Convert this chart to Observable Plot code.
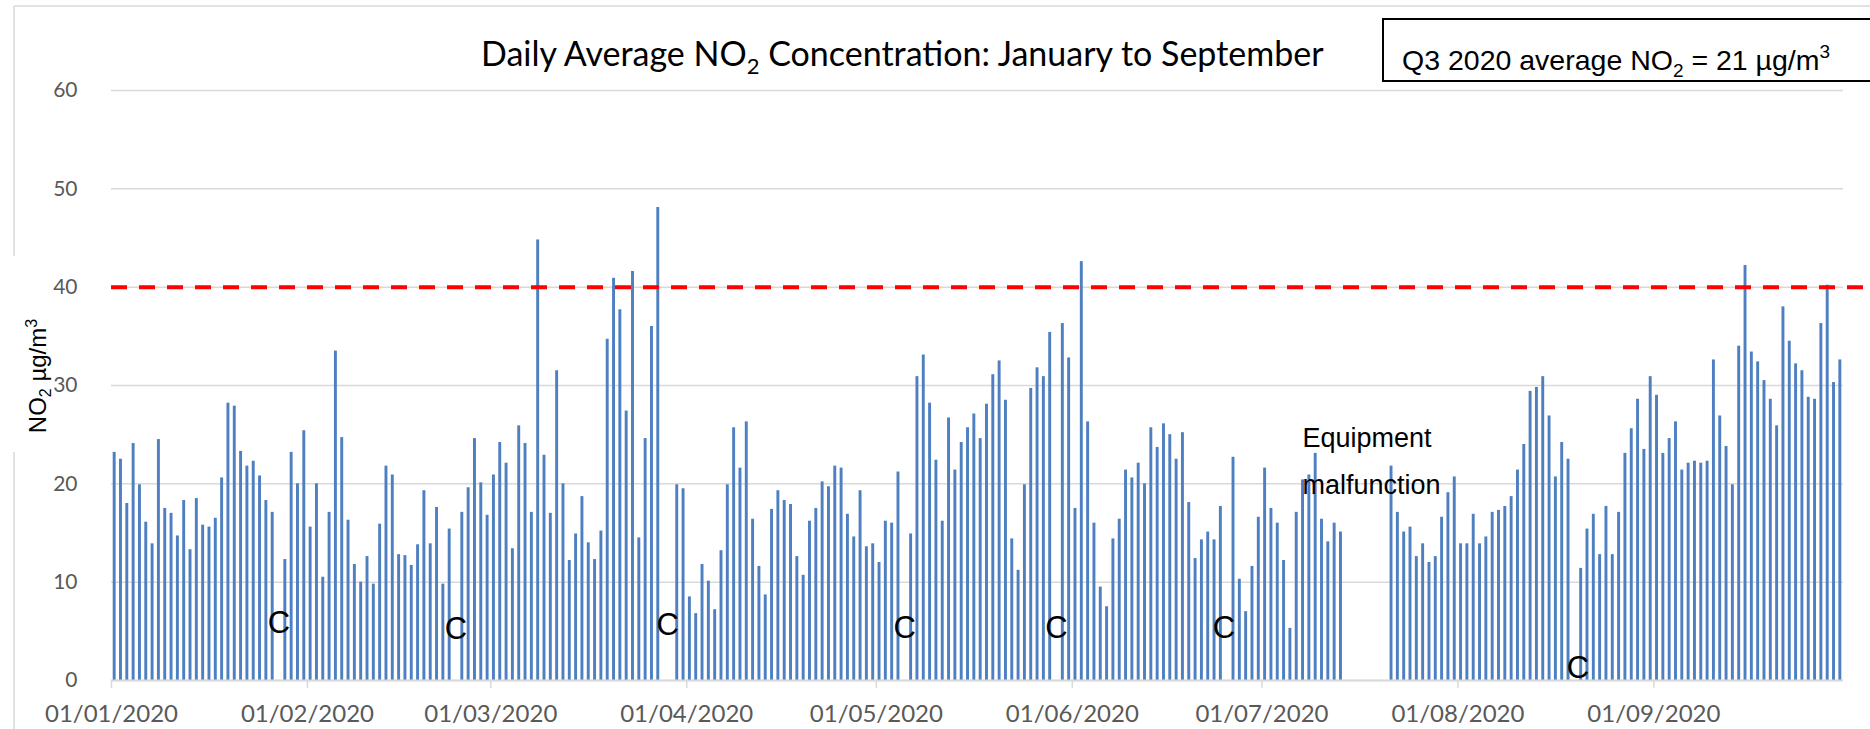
<!DOCTYPE html>
<html>
<head>
<meta charset="utf-8">
<script src="https://cdn.jsdelivr.net/npm/d3@7"></script>
<script src="https://cdn.jsdelivr.net/npm/@observablehq/plot@0.6"></script>
<style>
  html, body { margin: 0; padding: 0; background: #fff; }
  body { width: 1870px; height: 729px; overflow: hidden; position: relative; }
  #chart { position: absolute; left: 0; top: 0; }
  #overlay { position: absolute; left: 0; top: 0; pointer-events: none; }
</style>
</head>
<body>
<div id="chart"></div>
<svg id="overlay" width="1870" height="729" xmlns="http://www.w3.org/2000/svg">
  <line x1="14" y1="6" x2="1870" y2="6" stroke="#d9d9d9" stroke-width="1.5"/>
  <line x1="14" y1="6" x2="14" y2="256" stroke="#d9d9d9" stroke-width="1.5"/>
  <line x1="14" y1="452" x2="14" y2="729" stroke="#d9d9d9" stroke-width="1.5"/>
  <text x="481" y="66" font-family="Lato, sans-serif" font-size="34" fill="#000">Daily Average NO<tspan font-size="22" dy="8">2</tspan><tspan dy="-8"> Concentration: January to September</tspan></text>
  <rect x="1383" y="19" width="600" height="62" fill="#fff" stroke="#000" stroke-width="2"/>
  <text x="1402" y="70" font-family="Liberation Sans, Arial, sans-serif" font-size="28.5" fill="#000">Q3 2020 average NO<tspan font-size="19" dy="7">2</tspan><tspan dy="-7"> = 21 µg/m</tspan><tspan font-size="19" dy="-12">3</tspan></text>
  <g transform="translate(46,376) rotate(-90)">
    <text text-anchor="middle" font-family="Liberation Sans, Arial, sans-serif" font-size="24" fill="#000">NO<tspan font-size="16" dy="5">2</tspan><tspan dy="-5"> µg/m</tspan><tspan font-size="16" dy="-9">3</tspan></text>
  </g>
</svg>
<script>
// Daily average NO2 (µg/m³), one array per month; null = no data
const jan = [23.2, 22.5, 18.0, 24.1, 19.9, 16.1, 13.9, 24.5, 17.5, 17.0, 14.7, 18.3, 13.3, 18.5, 15.8, 15.6, 16.5, 20.6, 28.2, 27.9, 23.3, 21.8, 22.3, 20.8, 18.3, 17.1, null, 12.3, 23.2, 20.0, 25.4];
const feb = [15.6, 20.0, 10.5, 17.1, 33.5, 24.7, 16.3, 11.8, 10.0, 12.6, 9.8, 15.9, 21.8, 20.9, 12.8, 12.7, 11.7, 13.8, 19.3, 13.9, 17.6, 9.8, 15.4, null, 17.1, 19.6, 24.6, 20.1, 16.8];
const mar = [20.9, 24.2, 22.1, 13.4, 25.9, 24.1, 17.1, 44.8, 22.9, 17.0, 31.5, 20.0, 12.2, 14.9, 18.7, 14.0, 12.3, 15.2, 34.7, 40.9, 37.7, 27.4, 41.6, 14.5, 24.6, 36.0, 48.1, null, null, 19.9, 19.5];
const apr = [8.5, 6.8, 11.8, 10.1, 7.2, 13.2, 19.9, 25.7, 21.6, 26.3, 16.4, 11.6, 8.7, 17.4, 19.3, 18.3, 17.9, 12.6, 10.7, 16.2, 17.5, 20.2, 19.7, 21.8, 21.6, 16.9, 14.6, 19.3, 13.6, 13.9];
const may = [12.0, 16.2, 16.0, 21.2, null, 14.9, 30.9, 33.1, 28.2, 22.4, 16.2, 26.7, 21.4, 24.2, 25.7, 27.1, 24.6, 28.1, 31.1, 32.5, 28.5, 14.4, 11.2, 19.9, 29.7, 31.8, 30.9, 35.4, null, 36.3, 32.8];
const jun = [17.5, 42.6, 26.3, 16.0, 9.5, 7.5, 14.4, 16.4, 21.4, 20.6, 22.1, 20.0, 25.7, 23.7, 26.1, 25.0, 22.5, 25.2, 18.1, 12.4, 14.3, 15.1, 14.3, 17.7, null, 22.7, 10.3, 7.0, 11.6, 16.6];
const jul = [21.6, 17.5, 16.0, 12.2, 5.3, 17.1, 20.4, 20.9, 23.1, 16.4, 14.1, 16.0, 15.1, null, null, null, null, null, null, null, 21.8, 17.1, 15.1, 15.6, 12.6, 13.9, 12.0, 12.6, 16.6, 19.1, 20.7];
const aug = [13.9, 13.9, 16.9, 13.9, 14.6, 17.1, 17.3, 17.7, 18.7, 21.4, 24.0, 29.4, 29.8, 30.9, 26.9, 20.7, 24.2, 22.5, null, 11.4, 15.4, 16.9, 12.8, 17.7, 12.8, 17.1, 23.1, 25.6, 28.6, 23.5, 30.9];
const sep = [29.0, 23.1, 24.6, 26.3, 21.4, 22.1, 22.3, 22.1, 22.3, 32.6, 26.9, 23.8, 19.9, 34.0, 42.2, 33.4, 32.4, 30.5, 28.6, 25.9, 38.0, 34.5, 32.2, 31.5, 28.8, 28.6, 36.3, 40.2, 30.3, 32.6];

const months = [jan, feb, mar, apr, may, jun, jul, aug, sep];
const yTicks = [0, 10, 20, 30, 40, 50, 60];
const limitValue = 40;

// "C" annotations (date, height in µg/m³)
const cDates = ["2020-01-27T12:00Z", "2020-02-24T12:00Z", "2020-03-29T00:00Z", "2020-05-05T12:00Z", "2020-05-29T12:00Z", "2020-06-25T00:00Z", "2020-08-20T00:00Z"];
const cLevels = [5.8, 5.2, 5.6, 5.3, 5.3, 5.3, 1.3];
const noteLines = ["Equipment", "malfunction"];
const noteDate = "2020-07-07T10:00Z";
const noteLevels = [24.6, 19.8];

const data = [];
months.forEach((arr, m) => arr.forEach((v, i) => {
  if (v != null) data.push({date: new Date(Date.UTC(2020, m, i + 1)), value: v});
}));
const cData = cDates.map((d, i) => ({date: new Date(d), y: cLevels[i]}));
const noteData = noteLines.map((t, i) => ({date: new Date(noteDate), y: noteLevels[i], text: t}));

const x0 = new Date(Date.UTC(2020, 0, 1));
const x1 = new Date(Date.UTC(2020, 9, 1));
const monthTicks = d3.utcMonth.range(x0, x1);
const fmt = d3.utcFormat("%d/%m/%Y");

const chart = Plot.plot({
  width: 1870,
  height: 729,
  marginTop: 90,
  marginBottom: 49,
  marginLeft: 111,
  marginRight: 27,
  style: {background: "transparent", overflow: "visible"},
  x: {type: "utc", domain: [x0, x1]},
  y: {domain: [0, 60]},
  marks: [
    Plot.gridY(yTicks, {stroke: "#d9d9d9", strokeOpacity: 1, strokeWidth: 1.5}),
    Plot.axisY(yTicks, {tickSize: 0, tickPadding: 34, fontSize: 21, fontFamily: "Lato, sans-serif", color: "#595959", label: null}),
    Plot.axisX(monthTicks, {tickSize: 8, tickFormat: () => "", color: "#d9d9d9", strokeWidth: 1.5, label: null}),
    Plot.axisX(monthTicks, {tickSize: 0, tickPadding: 24, tickFormat: fmt, fontSize: 24, fontFamily: "Lato, sans-serif", color: "#595959", label: null}),
    Plot.rectY(data, {x: "date", y: "value", interval: "day", insetLeft: 1.7, insetRight: 1.7, fill: "#4e7fc1"}),
    Plot.ruleY([0], {stroke: "#d9d9d9", strokeWidth: 2}),
    Plot.ruleY([limitValue], {x1: x0, x2: new Date(Date.UTC(2020, 9, 8)), stroke: "#ff0000", strokeWidth: 4, strokeDasharray: "16,12", clip: false}),
    Plot.text(cData, {x: "date", y: "y", text: () => "C", fontSize: 31, fontFamily: "Liberation Sans, Arial, sans-serif", fill: "#000"}),
    Plot.text(noteData, {x: "date", y: "y", text: "text", textAnchor: "start", fontSize: 27, fontFamily: "Liberation Sans, Arial, sans-serif", fill: "#000"})
  ]
});
document.getElementById("chart").appendChild(chart);
</script>
</body>
</html>
